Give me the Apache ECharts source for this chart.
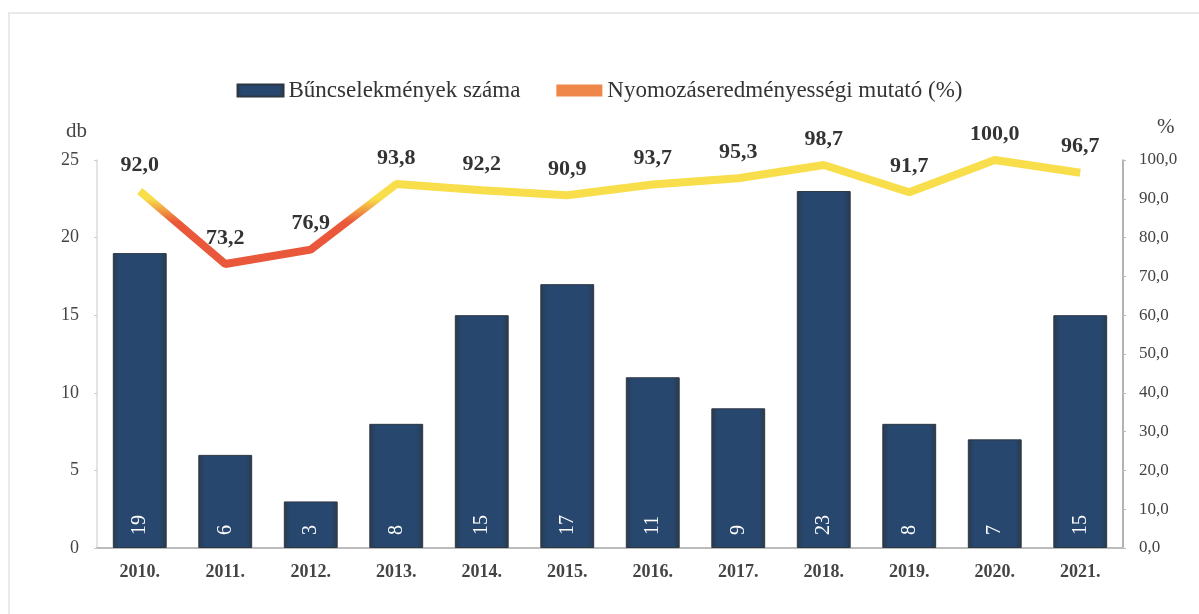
<!DOCTYPE html>
<html>
<head>
<meta charset="utf-8">
<script src="https://cdn.jsdelivr.net/npm/echarts@6/dist/echarts.min.js"></script>
<style>
    html, body {margin: 0; padding: 0; background: #fff;}
    #wrap {position: absolute; left: 8px; top: 12px; width: 1199px; height: 600px; border: 2px solid #e9e9e9; border-right: none;}
    #main {position: absolute; left: 0; top: 0; width: 1199px; height: 614px;}
</style>
</head>
<body>
<div id="wrap"></div>
<div id="main"></div>
<script>
var years = ['2010.', '2011.', '2012.', '2013.', '2014.', '2015.', '2016.', '2017.', '2018.', '2019.', '2020.', '2021.'];
var crimes = [19, 6, 3, 8, 15, 17, 11, 9, 23, 8, 7, 15];
var rate = [92.0, 73.2, 76.9, 93.8, 92.2, 90.9, 93.7, 95.3, 98.7, 91.7, 100.0, 96.7];
var legendNames = ['Bűncselekmények száma', 'Nyomozáseredményességi mutató (%)'];

var serif = '"Liberation Serif", "DejaVu Serif", serif';

var option = {
    animation: false,
    textStyle: {fontFamily: serif},
    legend: {
        top: 74,
        left: 'center',
        itemWidth: 46,
        itemHeight: 12,
        itemGap: 36,
        data: [
            {name: legendNames[0], icon: 'rect'},
            {name: legendNames[1], icon: 'rect', itemStyle: {color: '#f0874a'}}
        ],
        textStyle: {color: '#333', fontSize: 23, fontFamily: serif}
    },
    grid: {
        left: 97,
        right: 76,
        top: 160,
        bottom: 66
    },
    visualMap: {
        show: false,
        type: 'continuous',
        seriesIndex: 1,
        dimension: 1,
        min: 84,
        max: 90,
        inRange: {color: ['#e9583a', '#f8de4a']}
    },
    // vízszintes tengely
    xAxis: [{
        type: 'category',
        data: years,
        axisLine: {show: true, lineStyle: {color: '#bbb', width: 2}},
        axisTick: {show: false},
        axisLabel: {color: '#444', fontSize: 18, fontWeight: 'bold', margin: 15, fontFamily: serif}
    }],
    yAxis: [{
        type: 'value',
        name: 'db',
        nameLocation: 'end',
        nameGap: 18,
        nameTextStyle: {color: '#444', fontSize: 21, align: 'right', padding: [0, 10, 0, 0]},
        min: 0,
        max: 25,
        interval: 5,
        splitLine: {show: false},
        axisLine: {show: true, lineStyle: {color: '#d5dbe0', width: 1.5}},
        axisTick: {show: true, length: 3, lineStyle: {color: '#ccc'}},
        axisLabel: {color: '#444', fontSize: 18, margin: 18, fontFamily: serif}
    }, {
        type: 'value',
        name: '%',
        nameLocation: 'end',
        nameGap: 22,
        nameTextStyle: {color: '#444', fontSize: 21, align: 'left', padding: [0, 0, 0, 34]},
        min: 0,
        max: 100,
        interval: 10,
        splitLine: {show: false},
        axisLine: {show: true, lineStyle: {color: '#999', width: 1.5}},
        axisTick: {show: true, length: 3, lineStyle: {color: '#bbb'}},
        axisLabel: {
            color: '#444', fontSize: 17, margin: 16, fontFamily: serif,
            formatter: function (v) { return v.toFixed(1).replace('.', ','); }
        }
    }],
    series: [{
        name: legendNames[0],
        type: 'bar',
        yAxisIndex: 0,
        data: crimes,
        barCategoryGap: '37%',
        itemStyle: {
            color: {
                type: 'linear', x: 0, y: 0, x2: 1, y2: 0,
                colorStops: [
                    {offset: 0, color: '#2a3a4c'},
                    {offset: 0.12, color: '#27476e'},
                    {offset: 0.88, color: '#27476e'},
                    {offset: 1, color: '#2a3a4c'}
                ]
            },
            borderColor: '#2d3744',
            borderWidth: 1
        },
        label: {
            show: true,
            position: 'insideBottom',
            distance: 13,
            rotate: 90,
            align: 'left',
            verticalAlign: 'middle',
            color: '#fff',
            fontSize: 20,
            fontFamily: serif
        }
    }, {
        name: legendNames[1],
        type: 'line',
        yAxisIndex: 1,
        data: rate,
        symbol: 'circle',
        symbolSize: 0,
        showSymbol: true,
        itemStyle: {color: '#f0874a'},
        lineStyle: {width: 8},
        label: {
            show: true,
            position: 'top',
            distance: 15,
            color: '#333',
            fontSize: 22,
            fontWeight: 'bold',
            fontFamily: serif,
            formatter: function (p) { return p.value.toFixed(1).replace('.', ','); }
        }
    }]
};

var myChart = echarts.init(document.getElementById('main'));
myChart.setOption(option);
</script>
</body>
</html>
